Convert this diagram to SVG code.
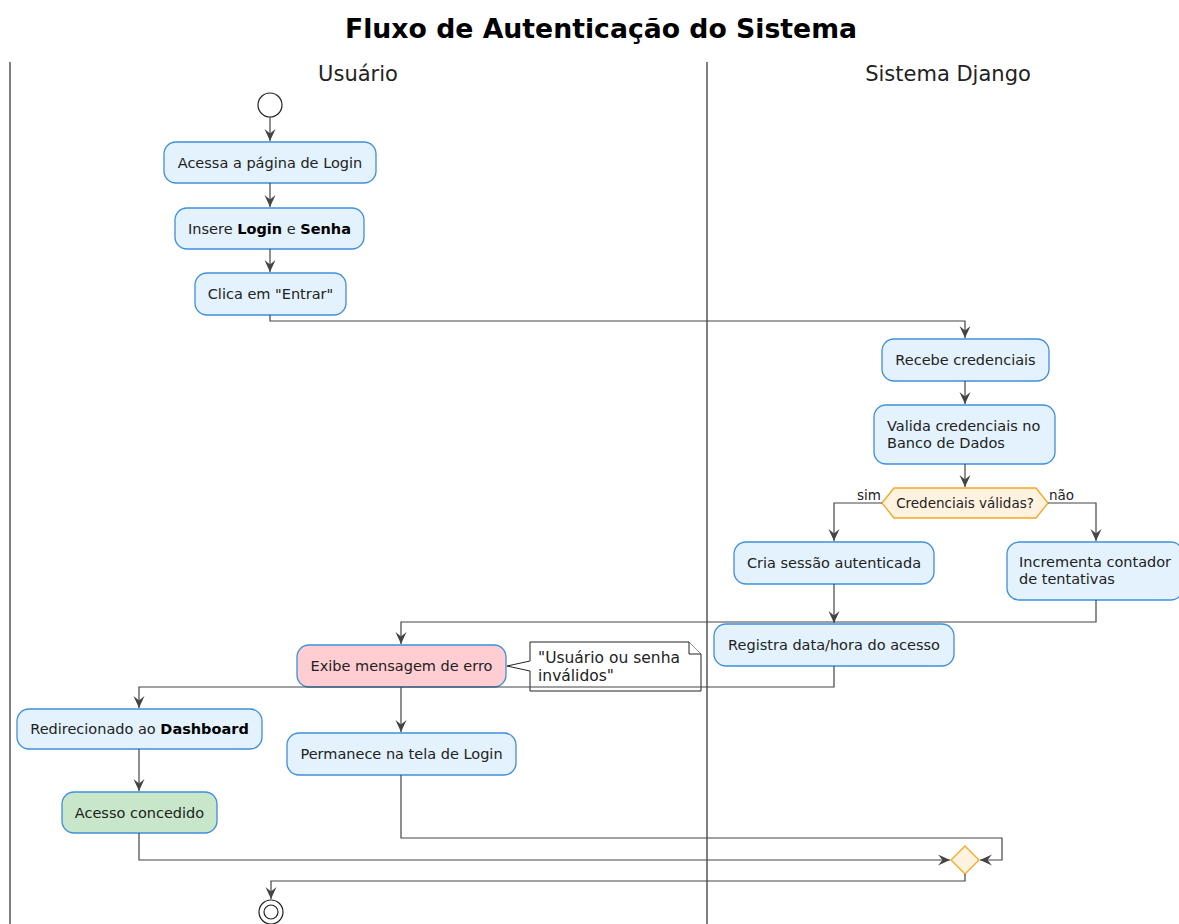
<svg xmlns="http://www.w3.org/2000/svg" width="1179" height="924" viewBox="0 0 1179 924">
  <style>
    text { font-family: "DejaVu Sans", "Liberation Sans", sans-serif; fill: #222; }
    .title { font-size: 26.7px; font-weight: bold; fill: #000; }
    .lane-title { font-size: 21px; }
    .lane { stroke: #000; stroke-width: 1; }
    .box { fill: #e3f2fd; stroke: #3f8fdb; stroke-width: 1.3; }
    .err { fill: #ffcdd2; stroke: #3f8fdb; stroke-width: 1.3; }
    .ok { fill: #c8e6c9; stroke: #3f8fdb; stroke-width: 1.3; }
    .lbl { font-size: 14.5px; }
    .mid { text-anchor: middle; }
    .dec { fill: #fff3e0; stroke: #f5a623; stroke-width: 1.3; }
    .small { font-size: 13.5px; }
    .note { fill: #fff; stroke: #222; stroke-width: 1; }
    .note-t { font-size: 15.5px; }
    .conn path { fill: none; stroke: #444; stroke-width: 1.2; }
    .start { fill: #fff; stroke: #222; stroke-width: 1.2; }
  </style>
  <defs>
    <marker id="arrow" markerUnits="userSpaceOnUse" markerWidth="14" markerHeight="12" refX="12" refY="5.5" orient="auto">
      <path d="M0,0 L12,5.5 L0,11 L4.5,5.5 Z" fill="#444"/>
    </marker>
  </defs>

  <rect width="1179" height="924" fill="#fff"/>

  <!-- title and swimlanes -->
  <text class="title mid" x="601" y="38">Fluxo de Autenticação do Sistema</text>
  <line class="lane" x1="10" y1="62" x2="10" y2="924"/>
  <line class="lane" x1="707" y1="62" x2="707" y2="924"/>
  <text class="lane-title mid" x="358" y="81">Usuário</text>
  <text class="lane-title mid" x="948" y="81">Sistema Django</text>

  <g id="start"><circle class="start" cx="270" cy="105" r="12"/></g>

  <g id="acessa">
    <rect class="box" x="164" y="142" width="212" height="41" rx="12"/>
    <text class="lbl mid" x="270" y="167.5">Acessa a página de Login</text>
  </g>
  <g id="insere">
    <rect class="box" x="175" y="208" width="189" height="41" rx="12"/>
    <text class="lbl mid" x="269.5" y="233.5">Insere <tspan font-weight="bold" fill="#000">Login</tspan> e <tspan font-weight="bold" fill="#000">Senha</tspan></text>
  </g>
  <g id="clica">
    <rect class="box" x="195" y="273" width="151" height="42" rx="12"/>
    <text class="lbl mid" x="270.5" y="299">Clica em "Entrar"</text>
  </g>
  <g id="recebe">
    <rect class="box" x="882" y="339" width="167" height="42" rx="12"/>
    <text class="lbl mid" x="965.5" y="365">Recebe credenciais</text>
  </g>
  <g id="valida">
    <rect class="box" x="874" y="405" width="181" height="59" rx="12"/>
    <text class="lbl" x="887" y="431">Valida credenciais no</text>
    <text class="lbl" x="887" y="448">Banco de Dados</text>
  </g>
  <g id="decisao">
    <polygon class="dec" points="882,503 894,488 1036,488 1048,503 1036,518 894,518"/>
    <text class="small mid" x="965" y="508">Credenciais válidas?</text>
    <text class="small" x="857" y="500">sim</text>
    <text class="small" x="1049" y="500">não</text>
  </g>
  <g id="cria">
    <rect class="box" x="734" y="542" width="200" height="42" rx="12"/>
    <text class="lbl mid" x="834" y="568">Cria sessão autenticada</text>
  </g>
  <g id="incrementa">
    <rect class="box" x="1007" y="542" width="176" height="58" rx="12"/>
    <text class="lbl" x="1019" y="567">Incrementa contador</text>
    <text class="lbl" x="1019" y="584">de tentativas</text>
  </g>
  <g id="registra">
    <rect class="box" x="714" y="624" width="240" height="42" rx="12"/>
    <text class="lbl mid" x="834" y="650">Registra data/hora do acesso</text>
  </g>
  <g id="exibe">
    <rect class="err" x="297" y="645" width="209" height="42" rx="12"/>
    <text class="lbl mid" x="401.5" y="671">Exibe mensagem de erro</text>
  </g>
  <g id="nota">
    <path class="note" d="M530,642 H689 L701,654 V691 H530 V671 L507,666 L530,661 Z"/>
    <path class="note" d="M689,642 V654 H701"/>
    <text class="note-t" x="538" y="663">"Usuário ou senha</text>
    <text class="note-t" x="538" y="681">inválidos"</text>
  </g>
  <g id="redirecionado">
    <rect class="box" x="17" y="709" width="245" height="40" rx="12"/>
    <text class="lbl mid" x="139.5" y="734">Redirecionado ao <tspan font-weight="bold" fill="#000">Dashboard</tspan></text>
  </g>
  <g id="permanece">
    <rect class="box" x="287" y="733" width="229" height="42" rx="12"/>
    <text class="lbl mid" x="401.5" y="759">Permanece na tela de Login</text>
  </g>
  <g id="concedido">
    <rect class="ok" x="62" y="792" width="155" height="41" rx="12"/>
    <text class="lbl mid" x="139.5" y="817.5">Acesso concedido</text>
  </g>
  <g id="juncao">
    <polygon class="dec" points="965,846 979,860 965,874 951,860"/>
  </g>
  <g id="fim">
    <circle class="start" cx="271" cy="912" r="12"/>
    <circle class="start" cx="271" cy="912" r="7"/>
  </g>

  <!-- connectors -->
  <g class="conn">
    <path d="M270,117 V141" marker-end="url(#arrow)"/>
    <path d="M270,183 V207" marker-end="url(#arrow)"/>
    <path d="M270,249 V272" marker-end="url(#arrow)"/>
    <path d="M270,315 V321 H965 V338" marker-end="url(#arrow)"/>
    <path d="M965,381 V404" marker-end="url(#arrow)"/>
    <path d="M965,464 V487" marker-end="url(#arrow)"/>
    <path d="M882,503 H834 V541" marker-end="url(#arrow)"/>
    <path d="M1048,503 H1096 V541" marker-end="url(#arrow)"/>
    <path d="M834,584 V623" marker-end="url(#arrow)"/>
    <path d="M1096,600 V622 H401 V644" marker-end="url(#arrow)"/>
    <path d="M834,666 V687 H139 V708" marker-end="url(#arrow)"/>
    <path d="M401,687 V732" marker-end="url(#arrow)"/>
    <path d="M139,749 V791" marker-end="url(#arrow)"/>
    <path d="M139,833 V860 H950" marker-end="url(#arrow)"/>
    <path d="M401,775 V838 H1002 V860 H980" marker-end="url(#arrow)"/>
    <path d="M965,874 V881 H271 V899" marker-end="url(#arrow)"/>
  </g>
</svg>
